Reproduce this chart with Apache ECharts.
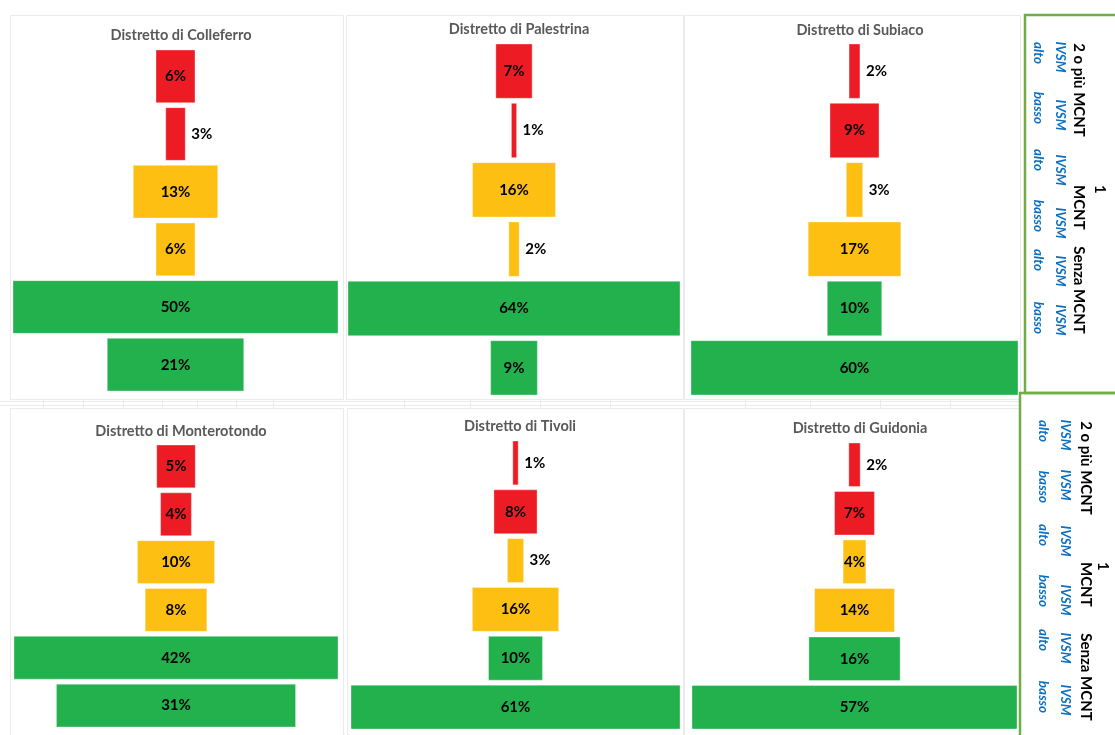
<!DOCTYPE html>
<html>
<head>
<meta charset="utf-8">
<script src="https://cdn.jsdelivr.net/npm/echarts@6/dist/echarts.min.js"></script>
<style>
  html, body { margin: 0; padding: 0; background: #ffffff; }
  #chart { width: 1115px; height: 735px; }
</style>
</head>
<body>
<div id="chart"></div>
<script>
// ---- data ----
const districts = [
  'Distretto di Colleferro', 'Distretto di Palestrina', 'Distretto di Subiaco',
  'Distretto di Monterotondo', 'Distretto di Tivoli', 'Distretto di Guidonia'
];
const categories = [
  '2 o più MCNT - IVSM alto', '2 o più MCNT - IVSM basso',
  '1 MCNT - IVSM alto', '1 MCNT - IVSM basso',
  'Senza MCNT - IVSM alto', 'Senza MCNT - IVSM basso'
];
const groupLabels = ['2 o più MCNT', '1', 'MCNT', 'Senza MCNT'];
const ivsmLabel = 'IVSM';
const levelLabels = ['alto', 'basso', 'alto', 'basso', 'alto', 'basso'];

const colleferro   = [6, 3, 13, 6, 50, 21];
const palestrina   = [7, 1, 16, 2, 64, 9];
const subiaco      = [2, 9, 3, 17, 10, 60];
const monterotondo = [5, 4, 10, 8, 42, 31];
const tivoli       = [1, 8, 3, 16, 10, 61];
const guidonia     = [2, 7, 4, 14, 16, 57];
const seriesValues = [colleferro, palestrina, subiaco, monterotondo, tivoli, guidonia];

// ---- styles / layout ----
const groupColors = ['#ED1C24', '#FDBF12', '#22B14C'];
const FONT = 'Lato';
const panels = [
  { left: 13,  top: 47.5,  width: 325, height: 346, tx: 176, ty: 32 },
  { left: 348, top: 41.5,  width: 332, height: 356, tx: 514, ty: 26 },
  { left: 691, top: 41.5,  width: 327, height: 356, tx: 855, ty: 27 },
  { left: 14,  top: 442.5, width: 324, height: 287, tx: 176, ty: 428 },
  { left: 351, top: 438.5, width: 329, height: 293, tx: 515, ty: 423 },
  { left: 692, top: 440.5, width: 325, height: 291, tx: 855, ty: 425 }
];
const frames = [
  [10, 15, 333, 384], [346, 15, 337, 384], [684, 15, 336, 384],
  [10, 408, 333, 340], [347, 408, 336, 340], [684, 408, 336, 340]
];

const chart = echarts.init(document.getElementById('chart'), null, { renderer: 'canvas' });

const grids = [], xAxes = [], yAxes = [], series = [], titles = [];
panels.forEach((p, k) => {
  const vals = seriesValues[k];
  const maxV = Math.max.apply(null, vals);
  grids.push({ left: p.left, top: p.top, width: p.width, height: p.height, containLabel: false });
  xAxes.push({ gridIndex: k, type: 'value', min: 0, max: maxV, show: false });
  yAxes.push({ gridIndex: k, type: 'category', data: categories, inverse: true, show: false });
  titles.push({
    text: districts[k], left: p.tx, top: p.ty - 9, textAlign: 'center',
    textStyle: { fontFamily: FONT, fontSize: 14.5, fontWeight: 'bold', color: '#595959' }
  });
  series.push({
    type: 'custom',
    xAxisIndex: k, yAxisIndex: k,
    encode: { x: 0, y: 1 },
    data: vals.map((v, i) => [v, i]),
    renderItem: function (params, api) {
      const v = api.value(0);
      const idx = api.value(1);
      const c = api.coord([maxV / 2, idx]);
      const sz = api.size([v, 1]);
      const w = sz[0];
      const h = sz[1] - 5;
      const x = c[0] - w / 2;
      const y = c[1] - h / 2;
      const inside = w >= 20;
      return {
        type: 'group',
        children: [
          {
            type: 'rect',
            shape: { x: x, y: y, width: w, height: h },
            style: { fill: groupColors[Math.floor(idx / 2)], stroke: 'rgba(255,255,255,0.35)', lineWidth: 1 }
          },
          {
            type: 'text',
            x: inside ? c[0] : x + w + 6,
            y: c[1],
            style: {
              text: v + '%',
              align: inside ? 'center' : 'left',
              verticalAlign: 'middle',
              fill: '#000000',
              font: 'bold 15px ' + FONT
            }
          }
        ]
      };
    }
  });
});

// ---- decorative graphics: chart frames, sheet gridlines, legend boxes ----
const graphics = [];
frames.forEach(f => {
  graphics.push({
    type: 'rect', silent: true, z: -10,
    shape: { x: f[0] + 0.5, y: f[1] + 0.5, width: f[2], height: f[3] },
    style: { fill: 'none', stroke: '#EBEBEB', lineWidth: 1 }
  });
});
[401.5, 405.5].forEach(yy => {
  graphics.push({ type: 'line', silent: true, z: -11,
    shape: { x1: 0, y1: yy, x2: 1020, y2: yy }, style: { stroke: '#EBEBEB', lineWidth: 1 } });
});
[43, 83, 123, 162, 197, 236, 273, 404, 470, 540, 610, 745, 810, 880, 950].forEach(xx => {
  graphics.push({ type: 'line', silent: true, z: -11,
    shape: { x1: xx + 0.5, y1: 399, x2: xx + 0.5, y2: 408 }, style: { stroke: '#EBEBEB', lineWidth: 1 } });
});
// legend boxes
graphics.push({ type: 'rect', silent: true,
  shape: { x: 1025, y: 15, width: 120, height: 378 },
  style: { fill: 'none', stroke: '#70AD47', lineWidth: 2.5 } });
graphics.push({ type: 'rect', silent: true,
  shape: { x: 1020, y: 393, width: 120, height: 360 },
  style: { fill: 'none', stroke: '#70AD47', lineWidth: 2.5 } });

const ROT = -Math.PI / 2;
function vtext(txt, x, y, font, color, align) {
  graphics.push({
    type: 'text', silent: true, x: x, y: y, rotation: ROT,
    style: { text: txt, font: font, fill: color, align: align || 'center', verticalAlign: 'middle' }
  });
}
const GFONT = 'bold 15px ' + FONT;
const BFONT = 'italic bold 13.5px ' + FONT;
const BLUE = '#0A6FC2';
const legendSets = [
  { gx: 1079, onex: 1100, ix: 1060, lx: 1038,
    g: [90, 185, 290], ivsm: [57, 115, 170, 223, 271, 320], lvl: [53, 108, 160, 216, 260, 318] },
  { gx: 1086, onex: 1103, ix: 1065, lx: 1043,
    g: [468, 562, 677], ivsm: [435, 485, 541, 600, 648, 700], lvl: [431, 487, 535, 591, 640, 697] }
];
legendSets.forEach(L => {
  vtext(groupLabels[0], L.gx, L.g[0], GFONT, '#000');
  vtext(groupLabels[1], L.onex, L.g[1], GFONT, '#000', 'left');
  vtext(groupLabels[2], L.gx, L.g[1], GFONT, '#000', 'left');
  vtext(groupLabels[3], L.gx, L.g[2], GFONT, '#000');
  L.ivsm.forEach(yy => vtext(ivsmLabel, L.ix, yy, BFONT, BLUE));
  L.lvl.forEach((yy, i) => vtext(levelLabels[i], L.lx, yy, BFONT, BLUE));
});

chart.setOption({
  animation: false,
  backgroundColor: '#ffffff',
  title: titles,
  grid: grids,
  xAxis: xAxes,
  yAxis: yAxes,
  series: series,
  graphic: graphics
});
</script>
</body>
</html>
